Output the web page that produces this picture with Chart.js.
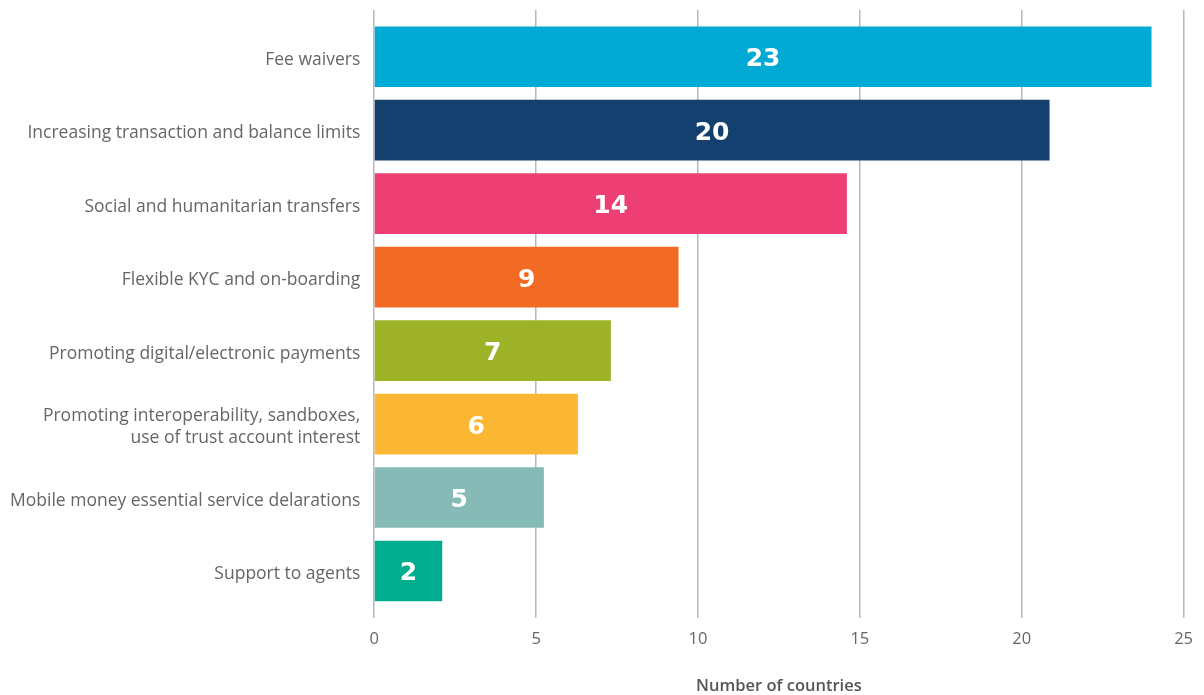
<!DOCTYPE html>
<html>
<head>
<meta charset="utf-8">
<script src="https://cdn.jsdelivr.net/npm/chart.js@4.4.1/dist/chart.umd.min.js"></script>
<style>
html,body{margin:0;padding:0;background:#fff;}
#wrap{width:1204px;height:695px;}
</style>
</head>
<body>
<div id="wrap"><canvas id="c" width="1204" height="695"></canvas></div>
<script>
const categories = [
  "Fee waivers",
  "Increasing transaction and balance limits",
  "Social and humanitarian transfers",
  "Flexible KYC and on-boarding",
  "Promoting digital/electronic payments",
  ["Promoting interoperability, sandboxes,", "use of trust account interest"],
  "Mobile money essential service delarations",
  "Support to agents"
];
// bar lengths as drawn in the picture
const barValues = [24.0, 20.85, 14.59, 9.39, 7.30, 6.28, 5.23, 2.09];
// counts printed on the bars
const countLabels = ["23", "20", "14", "9", "7", "6", "5", "2"];
const barColors = ["#00AAD4", "#14406F", "#EE3F75", "#F26B24", "#9DB227", "#FBB734", "#86BAB6", "#00AD8E"];
const xTicks = [0, 5, 10, 15, 20, 25];
const xTitle = "Number of countries";

const points = barValues.map((v, i) => ({x: v, y: i}));

const valueLabelPlugin = {
  id: 'valueLabels',
  afterDatasetsDraw(chart) {
    const ctx = chart.ctx;
    const meta = chart.getDatasetMeta(0);
    ctx.save();
    ctx.fillStyle = '#ffffff';
    ctx.font = 'bold 25px "DejaVu Sans", sans-serif';
    ctx.textAlign = 'center';
    ctx.textBaseline = 'middle';
    meta.data.forEach((bar, i) => {
      const cx = (bar.x + bar.base) / 2;
      ctx.fillText(countLabels[i], cx, bar.y + 3);
    });
    ctx.restore();
  }
};

new Chart(document.getElementById('c'), {
  type: 'bar',
  data: {
    datasets: [{
      data: points,
      backgroundColor: barColors,
      borderWidth: 0,
      barThickness: 60
    }]
  },
  plugins: [valueLabelPlugin],
  options: {
    indexAxis: 'y',
    responsive: false,
    animation: false,
    layout: {padding: {top: 10, right: 10, left: 10, bottom: 0}},
    plugins: {legend: {display: false}, tooltip: {enabled: false}},
    scales: {
      x: {
        type: 'linear',
        min: 0, max: 25,
        afterBuildTicks: s => { s.ticks = xTicks.map(v => ({value: v})); },
        afterFit: s => { s.height = 77; },
        grid: {color: '#b8b8b8', lineWidth: 1.5, drawTicks: false},
        border: {display: false},
        ticks: {color: '#666666', font: {family: '"Open Sans", sans-serif', size: 16.5}, padding: 11},
        title: {display: true, text: xTitle, color: '#555555', font: {family: '"Open Sans", sans-serif', size: 16.5, weight: '600', lineHeight: 1.0}, padding: {top: 27, bottom: 0}}
      },
      y: {
        type: 'linear',
        reverse: true,
        offset: false,
        min: -0.636, max: 7.64,
        afterBuildTicks: s => { s.ticks = categories.map((c, i) => ({value: i})); },
        afterFit: s => { s.paddingTop = 0; s.paddingBottom = 0; s.width = s.width - 14; },
        grid: {display: false, drawTicks: false},
        border: {display: false},
        ticks: {
          color: '#666666',
          font: {family: '"Open Sans", sans-serif', size: 17.5, lineHeight: 1.3},
          padding: 14,
          labelOffset: 3,
          callback: (v) => categories[v]
        }
      }
    }
  }
});
</script>
</body>
</html>
